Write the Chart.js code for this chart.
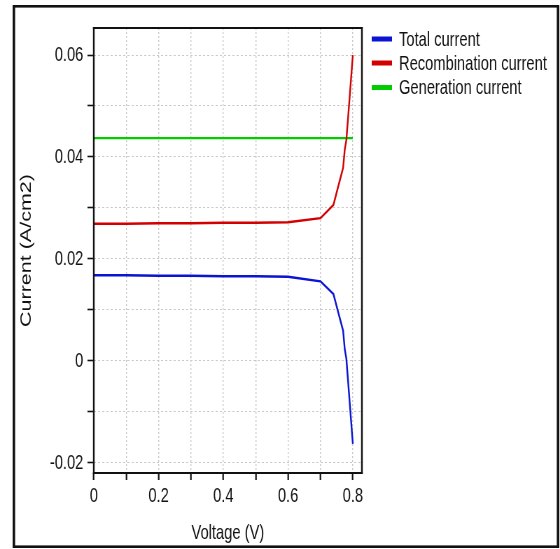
<!DOCTYPE html>
<html>
<head>
<meta charset="utf-8">
<script src="https://cdn.jsdelivr.net/npm/chart.js@4/dist/chart.umd.min.js"></script>
<style>
  html, body { margin: 0; padding: 0; background: #fff; overflow: hidden; }
  /* the source picture is squeezed horizontally, so draw wide and squeeze */
  #wrap { width: 800px; height: 549px; transform: scaleX(0.7); transform-origin: 0 0; }
</style>
</head>
<body>
<div id="wrap"><canvas id="chart" width="800" height="549"></canvas></div>
<script>
// ── Data ─────────────────────────────────────────────────────────────────────
const VOLTAGE        = [0, 0.1, 0.2, 0.3, 0.4, 0.5, 0.6, 0.7, 0.74, 0.77, 0.775, 0.78, 0.8];
const TOTAL_CURRENT  = [0.0168, 0.0168, 0.0167, 0.0167, 0.0166, 0.0166, 0.0165, 0.0156, 0.0131, 0.0059, 0.0023, 0.0004, -0.0163];
const RECOMB_CURRENT = [0.0269, 0.0269, 0.0270, 0.0270, 0.0271, 0.0271, 0.0272, 0.0280, 0.0306, 0.0379, 0.0414, 0.0433, 0.0600];
const GEN_CURRENT    = [0.0437, 0.0437, 0.0437, 0.0437, 0.0437, 0.0437, 0.0437, 0.0437, 0.0437, 0.0437, 0.0437, 0.0437, 0.0437];

const SERIES_NAMES   = ['Total current', 'Recombination current', 'Generation current'];
const SERIES_COLORS  = ['#0a14d2', '#d20000', '#00cc00'];

const X_TICKS        = [0, 0.1, 0.2, 0.3, 0.4, 0.5, 0.6, 0.7, 0.8];
const X_TICK_LABELS  = ['0', '', '0.2', '', '0.4', '', '0.6', '', '0.8'];
const Y_TICKS        = [-0.02, -0.01, 0, 0.01, 0.02, 0.03, 0.04, 0.05, 0.06];
const Y_TICK_LABELS  = ['-0.02', '', '0', '', '0.02', '', '0.04', '', '0.06'];

const X_TITLE = 'Voltage (V)';
const Y_TITLE = 'Current (A/cm2)';

// ─ Defaults ──────────────────────────────────────────────────────────────────
Chart.defaults.font.family = '"Liberation Sans", Arial, sans-serif';
Chart.defaults.color       = '#111';

const GRID_COLOR = '#c8c8c8';
const INK        = '#111';

const toPoints = ys => VOLTAGE.map((v, i) => ({ x: v, y: ys[i] }));

// ─ Frame, outer border, legend and axis titles ───────────────────────────────
const decorPlugin = {
  id: 'decor',
  afterDraw(chart) {
    const { ctx, chartArea: a } = chart;
    ctx.save();
    ctx.fillStyle = INK;
    // plot frame
    ctx.fillRect(a.left - 1.2, a.top - 1, a.right - a.left + 2.4, 2);
    ctx.fillRect(a.left - 1.2, a.bottom - 1, a.right - a.left + 2.4, 2);
    ctx.fillRect(a.left - 1.2, a.top - 1, 2.4, a.bottom - a.top + 2);
    ctx.fillRect(a.right - 1.2, a.top - 1, 2.4, a.bottom - a.top + 2);
    // outer border
    ctx.fillRect(18, 5, 781, 2.6);
    ctx.fillRect(18, 545.4, 781, 2.6);
    ctx.fillRect(18, 5, 3.6, 543);
    ctx.fillRect(795.4, 5, 3.6, 543);

    // legend
    ctx.font = '21px "Liberation Sans", Arial, sans-serif';
    ctx.textBaseline = 'middle';
    ctx.textAlign = 'left';
    const rows = [39, 63, 87.5];
    SERIES_NAMES.forEach((name, i) => {
      ctx.fillStyle = SERIES_COLORS[i];
      ctx.fillRect(531, rows[i] - 2.5, 29, 5);
      ctx.fillStyle = INK;
      ctx.fillText(name, 570, rows[i] + 1);
    });

    // x title
    ctx.textAlign = 'center';
    ctx.fillText(X_TITLE, (a.left + a.right) / 2, 533);

    // y title
    ctx.translate(38.5, (a.top + a.bottom) / 2);
    ctx.rotate(-Math.PI / 2);
    ctx.font = '21.5px "Liberation Sans", Arial, sans-serif';
    ctx.fillText(Y_TITLE, 0, 0);
    ctx.restore();
  }
};

new Chart(document.getElementById('chart').getContext('2d'), {
  type: 'line',
  data: {
    datasets: [
      { label: SERIES_NAMES[0], data: toPoints(TOTAL_CURRENT),  borderColor: SERIES_COLORS[0] },
      { label: SERIES_NAMES[1], data: toPoints(RECOMB_CURRENT), borderColor: SERIES_COLORS[1] },
      { label: SERIES_NAMES[2], data: toPoints(GEN_CURRENT),    borderColor: SERIES_COLORS[2] },
    ].map(d => Object.assign(d, { borderWidth: 2.4, pointRadius: 0, tension: 0, fill: false }))
  },
  options: {
    responsive: false,
    animation: false,
    devicePixelRatio: 1,
    layout: { padding: { left: 0, top: 28, right: 283, bottom: 0 } },
    plugins: { legend: { display: false }, tooltip: { enabled: false } },
    scales: {
      x: {
        type: 'linear',
        min: 0,
        max: 0.828,
        afterBuildTicks: s => { s.ticks = X_TICKS.map(v => ({ value: v })); },
        afterFit: s => { s.height = 76; },
        grid: { color: GRID_COLOR, lineWidth: 1.4, borderDash: [2, 2], tickColor: INK, tickLength: 7, tickWidth: 2.2 },
        border: { display: false, dash: [2, 2] },
        ticks: {
          autoSkip: false, maxRotation: 0, padding: 4,
          font: { size: 21 }, color: INK,
          callback: (v, i) => X_TICK_LABELS[i]
        }
      },
      y: {
        type: 'linear',
        min: -0.022,
        max: 0.0653,
        afterBuildTicks: s => { s.ticks = Y_TICKS.map(v => ({ value: v })); },
        afterFit: s => { s.width = 134; },
        grid: { color: GRID_COLOR, lineWidth: 1, borderDash: [3, 3], tickColor: INK, tickLength: 9, tickWidth: 1.6 },
        border: { display: false, dash: [3, 3] },
        ticks: {
          autoSkip: false, padding: 6,
          font: { size: 21 }, color: INK,
          callback: (v, i) => Y_TICK_LABELS[i]
        }
      }
    }
  },
  plugins: [decorPlugin]
});
</script>
</body>
</html>
